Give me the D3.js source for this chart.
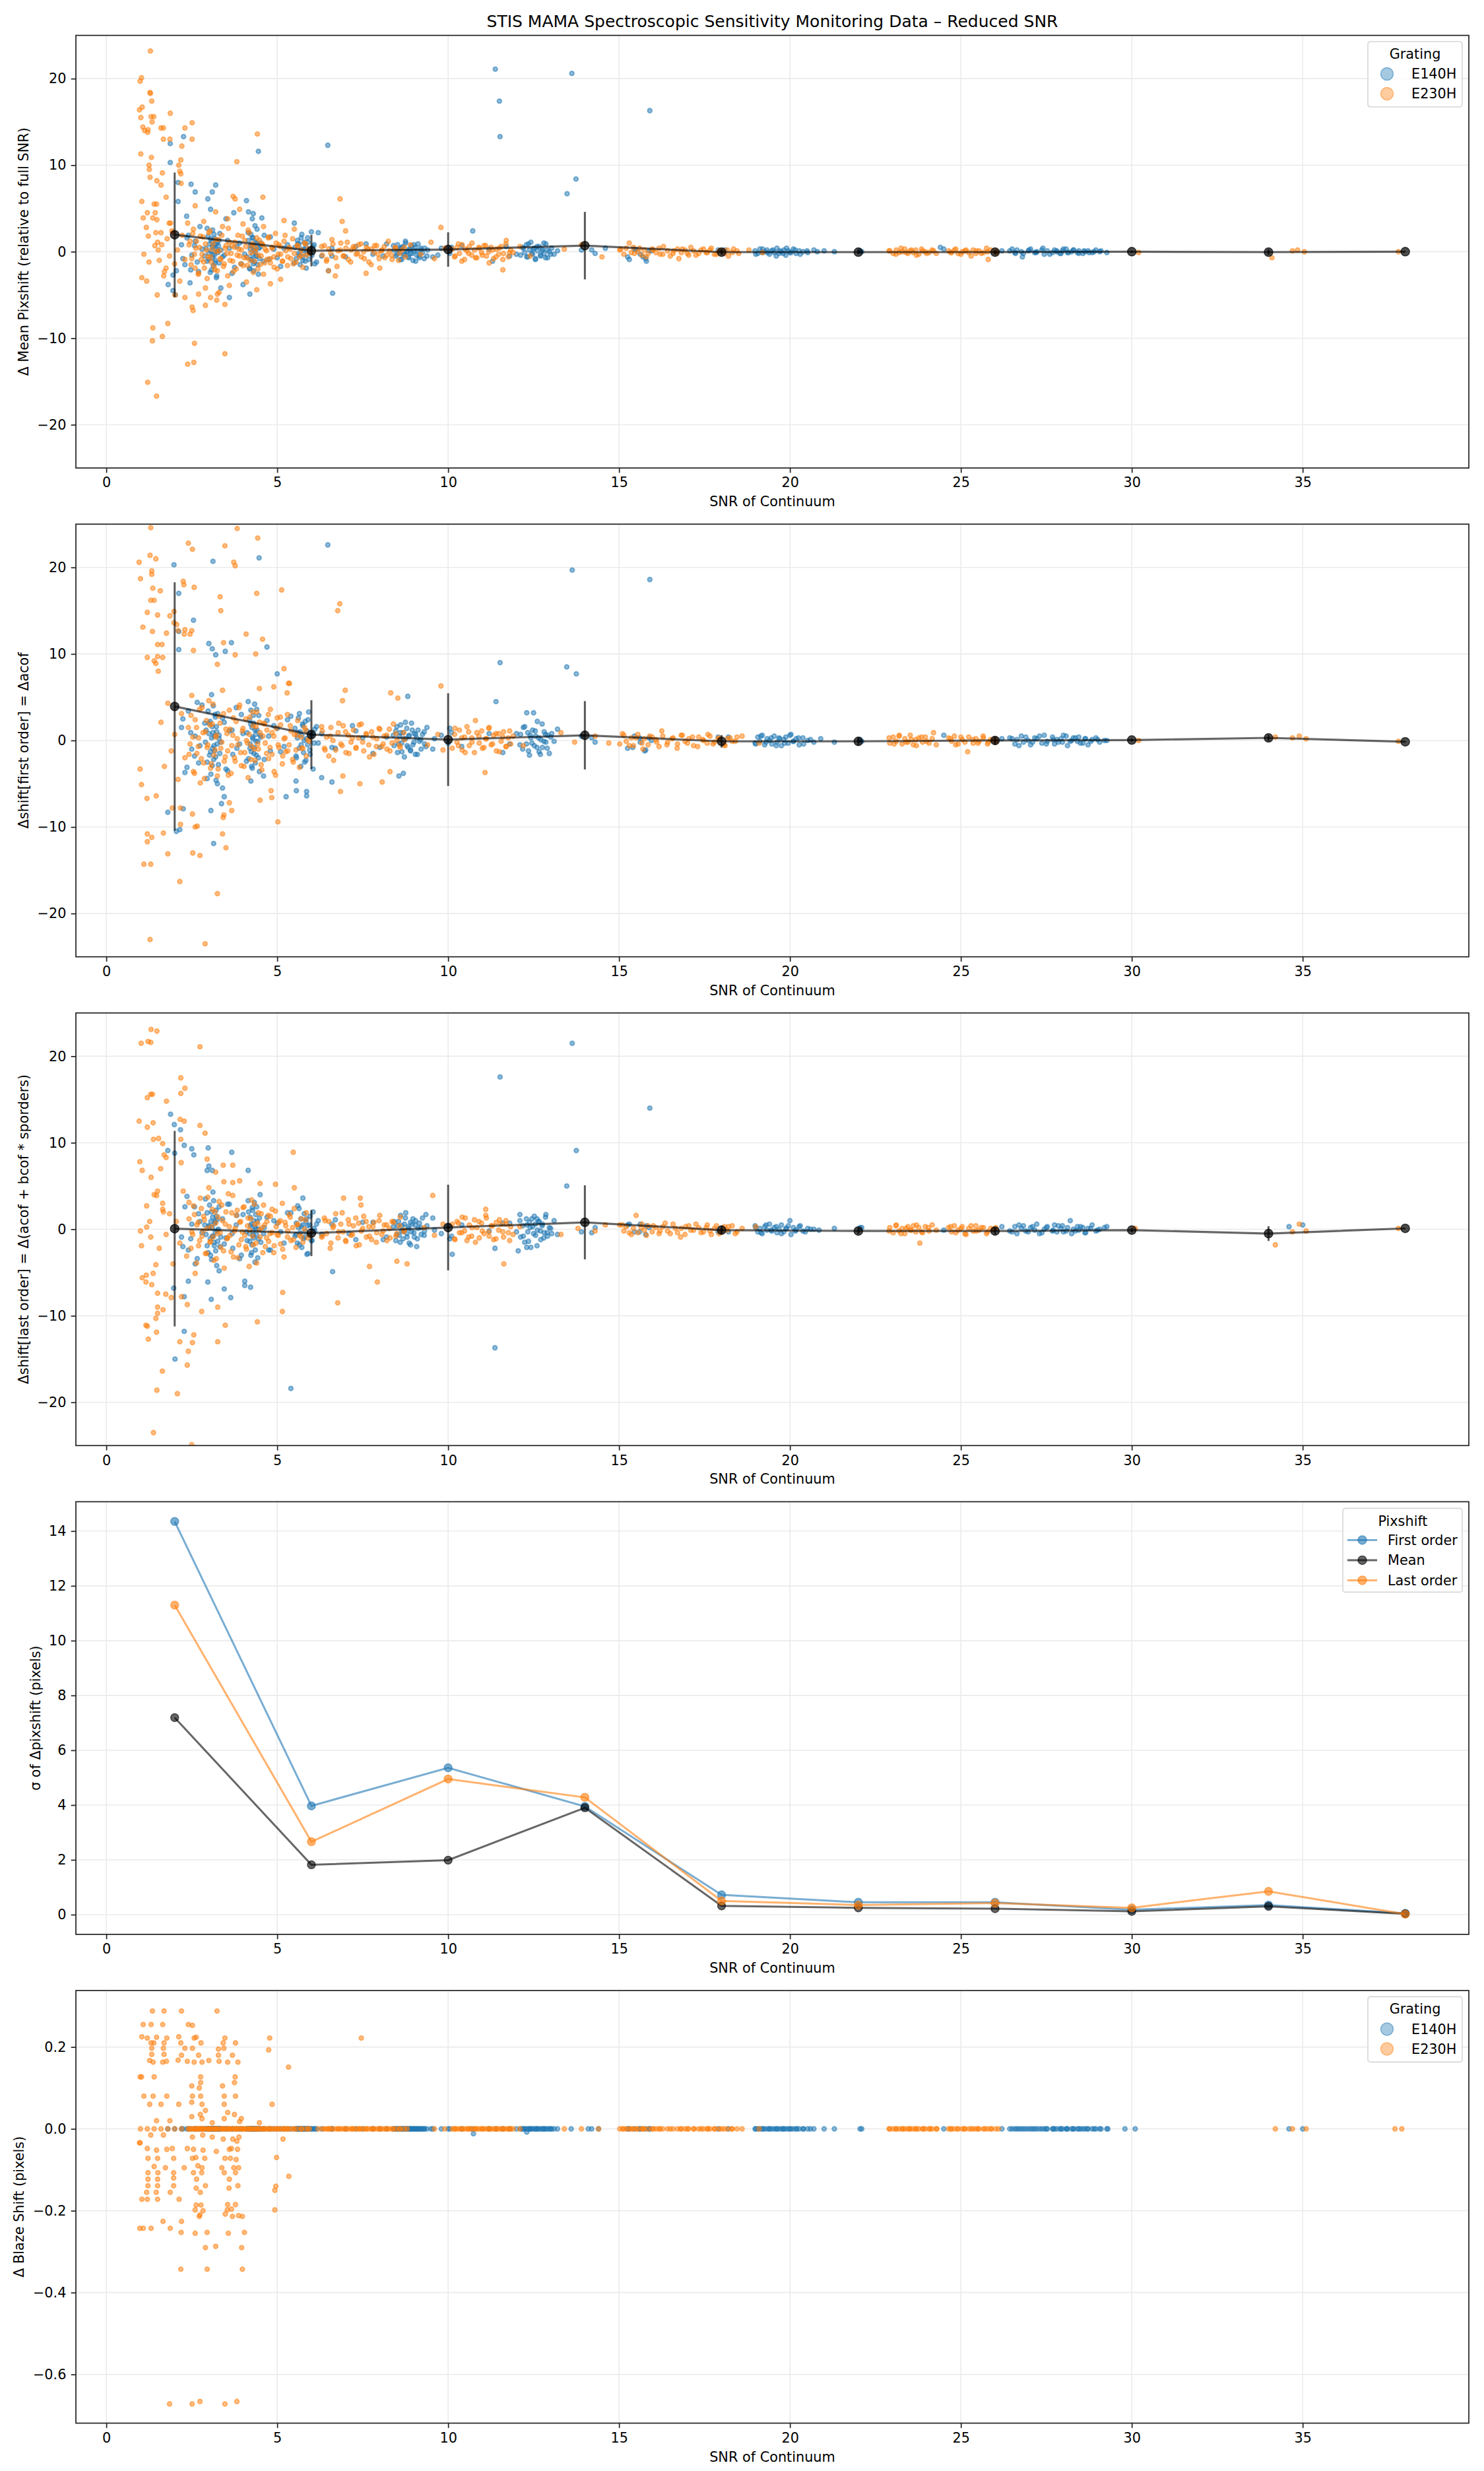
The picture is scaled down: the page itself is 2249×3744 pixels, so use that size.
<!DOCTYPE html>
<html>
<head>
<meta charset="utf-8">
<script src="https://cdn.jsdelivr.net/npm/d3@7"></script>
<style>
  body { margin: 0; background: #fff; }
  svg text { font-family: 'DejaVu Sans', sans-serif; fill: #000; }
</style>
</head>
<body>
<svg id="chart" width="2249" height="3744"></svg>
<script>
// ---- binned summary (x = SNR bin centres) ----
const snrBins = [2, 6, 10, 14, 18, 22, 26, 30, 34, 38];
const binMeanShift = [1.96, 0.12, 0.25, 0.7, -0.05, -0.05, -0.05, 0.0, -0.05, 0.0];
const binFirstShift = [3.93, 0.68, 0.1, 0.6, -0.1, -0.1, 0.0, 0.05, 0.3, -0.15];
const binLastShift = [0.07, -0.44, 0.2, 0.8, -0.1, -0.2, -0.2, -0.1, -0.5, 0.1];
const sigmaFirst = [14.35, 3.97, 5.36, 3.95, 0.72, 0.45, 0.45, 0.18, 0.35, 0.05];
const sigmaMean = [7.19, 1.82, 1.99, 3.9, 0.32, 0.25, 0.22, 0.12, 0.3, 0.03];
const sigmaLast = [11.3, 2.66, 4.95, 4.28, 0.5, 0.35, 0.42, 0.25, 0.85, 0.02];

const xTicks = [0, 5, 10, 15, 20, 25, 30, 35];
const shiftTicks = [-20, -10, 0, 10, 20];
const sigmaTicks = [0, 2, 4, 6, 8, 10, 12, 14];
const blazeTicks = [-0.6, -0.4, -0.2, 0.0, 0.2];

// ---- core observations, one row each: [snr, meanShift, firstShift, lastShift] (blaze shift 0) ----
const e140hCoreObs = [
  [2.92,0.4,1.2,-0.6],[2.95,-1.1,-2.5,1.9],[2.98,1.8,3.4,-2.7],[3.0,-0.2,0.8,0.4],[3.02,0.9,-1.7,2.8],[3.04,-2.4,2.2,-1.1],
  [3.06,0.1,-3.9,0.9],[3.08,1.2,0.3,-3.5],[3.1,-0.7,1.6,0.2],[3.11,2.5,-0.9,1.4],[3.13,-1.6,4.0,-0.8],[3.14,0.6,-2.2,3.3],
  [3.16,-0.4,0.5,-1.9],[3.17,1.5,-1.2,0.7],[3.19,-1.0,2.7,-0.3],[3.21,0.3,-4.6,2.2],[3.23,-2.8,1.0,-4.2],[3.24,1.0,-0.4,1.1],
  [3.26,-0.1,3.1,-1.4],[3.28,0.7,-2.8,0.0],[3.3,-1.3,0.6,2.6],[3.32,2.1,-1.5,-2.0],[2.88,-0.5,2.0,0.5],[3.35,0.2,-0.2,-0.9],
  [4.12,-0.6,0.9,-1.3],[4.16,1.3,-2.1,2.0],[4.19,-1.9,2.4,-0.5],[4.21,0.3,-0.4,1.4],[4.23,2.0,3.5,-3.0],[4.24,-0.9,-1.3,0.6],
  [4.26,0.8,1.5,-1.8],[4.27,-0.3,-3.2,2.5],[4.29,1.6,0.2,-0.2],[4.31,-2.2,2.0,-1.0],[4.33,0.5,-0.8,3.1],[4.34,-1.2,4.2,0.3],
  [4.36,0.0,-2.6,-2.4],[4.37,1.1,0.7,1.7],[4.39,-0.5,-1.7,-0.6],[4.41,2.6,1.2,0.9],[4.43,-1.5,-0.1,-3.3],[4.46,0.4,2.9,0.0],
  [4.48,-0.8,-3.6,1.3],[4.52,1.0,0.4,-1.5],
  [5.52,0.5,1.4,-0.8],[5.56,-0.8,-2.0,0.7],[5.59,1.3,0.3,-1.6],[5.62,-0.2,2.6,0.2],[5.64,0.9,-0.9,2.4],[5.67,-1.5,1.0,-0.4],
  [5.69,0.3,-3.0,1.2],[5.72,2.0,0.6,-2.1],[5.74,-0.6,1.9,0.5],[5.77,0.1,-1.4,-1.1],[5.79,1.1,0.0,1.8],[5.82,-1.1,2.2,-0.2],
  [5.84,0.6,-2.3,0.9],[5.87,-0.3,1.1,-2.9],[5.89,1.6,-0.5,0.4],[5.92,-0.9,3.3,-0.7],[5.96,0.2,-1.6,1.5],[6.02,-0.4,0.8,-1.3],
  [6.08,0.8,-0.3,0.1],[6.15,-1.2,1.6,0.6],
  [8.42,0.2,-0.6,0.9],[8.47,-0.5,1.1,-1.3],[8.52,0.8,-1.4,0.4],[8.57,-0.1,0.5,-0.7],[8.61,0.4,1.8,1.6],[8.64,-0.9,-0.3,-0.2],
  [8.68,0.6,0.9,-1.1],[8.72,-0.3,-1.9,0.6],[8.76,1.0,0.2,1.9],[8.79,0.0,1.4,-0.5],[8.83,-0.6,-0.8,0.3],[8.86,0.3,0.6,-1.6],
  [8.9,-0.2,-1.2,0.8],[8.93,0.7,2.0,-0.3],[8.97,-1.0,-0.5,1.2],[9.01,0.1,0.8,-0.9],[9.04,0.5,-1.6,0.5],[9.08,-0.4,0.3,-2.0],
  [9.12,0.9,1.2,0.1],[9.16,-0.7,-0.1,0.7],[9.21,0.2,-1.0,-0.6],[9.25,-0.1,0.7,1.3],[9.31,0.4,-0.4,-0.2],[9.38,-0.5,1.5,0.4],
  [12.12,-0.4,0.7,-0.9],[12.18,0.5,-1.0,0.4],[12.24,-0.1,1.6,-1.5],[12.29,0.8,-0.4,1.2],[12.33,-0.6,0.9,-0.3],[12.38,0.2,-1.7,0.8],
  [12.42,1.1,0.3,-2.1],[12.47,-0.3,1.2,0.3],[12.52,0.4,-0.6,1.5],[12.56,-0.8,0.5,-0.7],[12.61,0.1,2.2,-0.1],[12.66,0.6,-1.3,0.9],
  [12.71,-0.5,0.1,-1.2],[12.76,0.3,-0.8,0.6],[12.81,-0.2,1.0,-0.4],[12.86,0.9,-0.2,1.7],[12.91,-0.7,0.6,-0.8],[12.96,0.0,-1.5,0.2],
  [13.03,0.4,0.8,-0.5],[13.1,-0.3,-0.1,1.0],
  [18.98,0.1,-0.3,0.4],[19.06,-0.2,0.4,-0.3],[19.12,0.3,-0.1,0.1],[19.19,-0.1,0.6,-0.5],[19.26,0.0,-0.5,0.3],[19.33,0.2,0.2,-0.1],
  [19.4,-0.3,0.0,0.6],[19.47,0.1,-0.4,-0.2],[19.54,-0.1,0.5,0.2],[19.62,0.4,-0.2,-0.4],[19.68,-0.2,0.3,0.0],[19.75,0.0,-0.6,0.5],
  [19.82,0.2,0.1,-0.3],[19.88,-0.4,0.4,0.1],[19.95,0.1,-0.3,0.4],[20.03,-0.1,0.7,-0.6],[20.1,0.3,-0.1,0.2],[20.18,-0.2,0.2,-0.1],
  [20.27,0.1,-0.5,0.3],[20.38,0.0,0.3,-0.2],[20.52,-0.1,0.0,0.1],[20.7,0.2,-0.2,0.0],
  [26.43,0.1,0.3,-0.2],[26.58,-0.1,-0.4,0.3],[26.64,0.2,0.1,-0.5],[26.77,0.0,0.5,0.1],[26.83,-0.2,-0.2,0.4],[26.97,0.1,0.0,-0.3],
  [27.04,0.3,-0.5,0.2],[27.16,-0.1,0.3,-0.1],[27.22,0.0,0.2,0.6],[27.37,0.2,-0.3,-0.4],[27.44,-0.3,0.6,0.0],[27.53,0.1,-0.1,0.3],
  [27.68,-0.1,0.4,-0.2],[27.74,0.2,-0.4,0.5],[27.81,0.0,0.1,-0.3],[27.93,-0.2,0.2,0.1],[27.97,0.1,-0.2,0.4],[28.08,0.3,0.5,-0.2],
  [28.12,-0.1,-0.6,0.2],[28.24,0.0,0.0,-0.5],[28.29,0.2,0.3,0.0],[28.41,-0.1,-0.1,0.3],[28.45,0.1,0.4,-0.1],[28.57,-0.2,-0.3,0.2],
  [28.63,0.0,0.2,-0.4],[28.72,0.1,-0.5,0.1],[28.84,-0.1,0.1,0.5],[28.95,0.2,0.3,-0.2],[29.06,0.0,-0.2,0.0],[29.27,-0.1,0.0,0.3],
  [2.24,-0.8,2.5,-2.0],[2.36,1.6,-3.1,3.8],[2.47,-2.1,0.9,-1.1],[2.58,0.7,-1.8,2.6],[2.66,-1.2,4.4,-3.4],[2.74,2.9,-0.6,0.9],
  [3.45,-0.4,2.1,-1.7],[3.55,1.3,-3.5,2.9],[3.68,-2.5,1.2,-0.5],[3.82,0.6,-0.9,1.6],[3.95,-1.4,3.0,-3.0],[4.62,1.9,-2.2,0.2],
  [4.75,-0.9,0.5,-2.4],[4.9,0.3,1.7,1.0],[5.1,-1.7,-1.3,-0.3],[5.3,0.8,2.4,1.9],[6.6,-0.5,-0.8,0.6],[7.3,0.6,1.1,-1.2],
  [7.8,-0.3,-1.5,0.8],[8.2,0.9,0.4,-0.9],[9.55,-0.6,-1.0,1.3],[9.8,0.4,0.6,-0.5],[10.05,-0.2,1.4,-1.1],[10.4,0.7,-0.7,0.5],
  [11.2,0.3,0.8,-0.2],[11.8,-0.5,-0.4,0.7],[14.2,0.2,0.3,-0.4],[15.25,-0.6,-0.9,0.5],[15.45,0.3,0.5,-0.3],[15.62,-0.3,-0.2,0.6],
  [15.78,-0.8,-1.1,-0.6],[15.88,0.1,0.3,0.2],[17.9,0.2,0.4,-0.3],[21.3,0.0,-0.2,0.1],[22.05,0.1,0.1,0.2],[24.5,0.3,0.6,-0.1],
  [26.2,0.1,0.2,0.3]
];
const e230hCoreObs = [
  [2.42,0.8,-1.6,3.1],[2.48,-1.5,2.9,-2.2],[2.53,2.1,0.4,-0.6],[2.58,-0.3,-3.8,1.7],[2.64,1.2,1.5,-3.9],[2.69,-2.6,-0.7,0.8],
  [2.73,0.5,3.6,-1.3],[2.78,-0.9,-2.1,2.4],[2.83,1.7,0.9,-0.2],[2.87,-1.9,-4.4,1.1],[2.93,0.2,2.3,-2.8],[2.97,-0.6,-0.5,3.7],
  [3.03,2.4,1.8,-1.5],[3.07,-1.2,-2.7,0.3],[3.12,0.9,4.2,-0.9],[3.18,-2.1,-1.1,2.0],[3.22,0.0,0.6,-3.4],[3.27,1.4,-3.3,1.4],
  [3.33,-0.8,2.0,-0.4],[3.38,1.9,-0.2,2.8],[3.43,-1.7,3.1,-2.5],[3.48,0.4,-1.9,0.6],[3.53,-0.2,0.8,-1.1],[3.57,2.7,-4.0,4.1],
  [3.62,-1.0,1.3,-0.7],[3.67,0.7,-0.6,1.9],[3.72,-2.3,2.6,-3.2],[3.77,1.1,-2.4,0.1],[3.83,-0.4,0.2,2.2],[3.88,0.3,3.8,-1.8],
  [3.93,-1.4,-1.4,0.9],[3.98,1.8,1.1,-0.3],[4.03,-0.7,-3.0,2.6],[4.08,0.6,2.5,-2.0],[4.13,-1.6,-0.3,0.4],[4.18,2.2,0.7,-4.3],
  [4.23,-0.1,-2.2,1.2],[4.28,0.9,3.3,-0.8],[4.33,-1.1,-1.0,2.9],[4.38,0.4,1.6,-1.6],[4.43,-2.0,-0.4,0.7],[4.48,1.3,2.1,-0.1],
  [4.53,-0.5,-2.8,1.8],[4.58,0.8,0.5,-2.7],[4.63,-1.3,1.9,0.5],[4.69,0.1,-1.5,-1.0],[4.74,1.6,3.0,1.6],[4.79,-0.8,-0.8,-0.5],
  [4.85,0.5,0.9,2.3],[4.91,-1.8,-3.6,-1.9],[4.97,1.0,1.4,0.3],[5.03,-0.3,-0.5,-0.7],[5.09,0.6,2.7,1.0],[5.16,-1.1,-1.8,-2.3],
  [5.23,1.9,0.3,0.8],[5.31,-0.6,-1.2,-0.2],[5.38,0.3,1.7,1.4],[5.47,-1.4,-2.5,-1.2],[5.58,0.7,0.6,0.5],[5.71,-0.4,-0.9,-0.9],
  [5.83,0.9,1.2,1.1],[5.94,-0.2,-0.1,-0.6],
  [6.32,-0.4,1.1,-0.8],[6.38,0.7,-0.9,1.3],[6.44,-1.1,0.4,-0.5],[6.51,0.3,-1.8,0.9],[6.57,-0.2,1.5,-1.6],[6.63,0.9,0.0,0.2],
  [6.71,-0.7,-1.1,1.8],[6.78,0.1,0.9,-1.0],[6.86,1.0,-0.4,0.6],[6.93,-0.5,1.7,-0.3],[7.01,0.4,-1.4,-1.4],[7.08,-0.9,0.6,1.1],
  [7.16,0.2,-0.2,-0.7],[7.23,0.6,1.2,0.4],[7.31,-0.3,-0.8,-1.9],[7.38,0.8,0.3,0.7],[7.46,-0.6,1.9,-0.2],[7.53,0.0,-1.2,1.5],
  [7.61,0.5,0.7,-0.9],[7.68,-1.2,-0.5,0.3],[7.76,0.3,1.0,-1.2],[7.83,-0.1,-1.6,0.8],[7.91,0.7,0.2,-0.4],[7.98,-0.8,1.4,1.0],
  [8.06,0.2,-0.7,-0.6],[8.13,0.6,0.5,0.5],[8.21,-0.4,-1.0,-1.3],[8.28,0.1,1.3,0.1],[8.36,-0.9,-0.3,0.9],[8.47,0.4,0.8,-0.8],
  [8.58,-0.2,-0.6,0.4],[8.72,0.5,0.1,-0.1],
  [10.12,0.3,-0.9,0.6],[10.19,-0.6,0.7,-1.1],[10.26,0.5,-0.2,0.9],[10.33,-0.2,1.2,-0.4],[10.41,0.8,-1.1,1.4],[10.48,-0.9,0.4,-0.2],
  [10.55,0.1,1.6,-1.3],[10.62,0.6,-0.6,0.5],[10.69,-0.4,0.3,-0.8],[10.77,0.2,-1.4,1.1],[10.84,-0.7,0.9,0.2],[10.91,0.4,-0.3,-1.0],
  [10.98,-0.1,1.1,0.7],[11.05,0.7,-0.8,-0.5],[11.12,-0.5,0.2,1.3],[11.19,0.0,1.4,-0.3],[11.26,0.5,-0.5,0.4],[11.33,-0.8,0.6,-1.2],
  [11.41,0.3,-1.2,0.8],[11.48,-0.3,0.8,-0.1],[11.55,0.6,-0.1,0.6],[11.62,-0.2,1.0,-0.9],[11.69,0.9,-0.7,1.0],[11.76,-0.6,0.3,-0.4],
  [11.83,0.2,-0.4,0.3],[11.9,-0.1,0.5,-0.6],
  [15.02,0.2,-0.4,0.5],[15.14,-0.3,0.6,-0.2],[15.21,0.4,-0.1,0.3],[15.36,-0.1,0.3,-0.6],[15.42,0.5,-0.6,0.1],[15.55,0.0,0.7,-0.4],
  [15.67,-0.4,-0.3,0.6],[15.74,0.2,0.2,-0.1],[15.85,-0.2,-0.5,0.4],[15.97,0.3,0.4,-0.3],[16.08,-0.1,0.1,0.2],[16.17,0.4,-0.7,-0.5],
  [16.28,-0.3,0.5,0.3],[16.42,0.1,-0.2,-0.2],[16.58,-0.2,0.3,0.6],[16.71,0.3,-0.4,-0.4],[16.82,-0.1,0.6,0.1],[16.93,0.2,-0.1,-0.6],
  [17.04,-0.4,0.2,0.4],[17.18,0.1,-0.6,-0.1],[17.33,-0.2,0.4,0.2],[17.47,0.3,0.0,-0.3],[17.58,-0.1,-0.3,0.5],[17.66,0.2,0.5,-0.2],
  [17.79,-0.3,-0.2,0.1],[17.93,0.1,0.3,-0.5],[18.08,-0.2,-0.5,0.3],[18.17,0.2,0.2,-0.1],[18.31,-0.1,-0.1,0.4],[18.45,0.1,0.4,-0.3],
  [22.92,0.1,-0.3,0.2],[23.02,-0.2,0.4,-0.4],[23.11,0.2,-0.1,0.5],[23.19,-0.1,0.5,-0.2],[23.28,0.0,-0.4,0.1],[23.36,0.3,0.2,-0.5],
  [23.45,-0.2,-0.2,0.3],[23.52,0.1,0.6,-0.1],[23.61,-0.1,-0.5,0.4],[23.68,0.2,0.1,-0.3],[23.77,-0.3,0.3,0.2],[23.88,0.1,-0.2,-0.4],
  [23.96,0.0,0.4,0.3],[24.07,-0.1,-0.3,-0.2],[24.16,0.2,0.2,0.5],[24.28,-0.2,-0.5,-0.1],[24.64,0.1,0.3,0.2],[24.73,-0.1,-0.1,-0.3],
  [24.81,0.2,0.5,0.4],[24.92,-0.2,-0.4,-0.1],[25.04,0.0,0.1,0.3],[25.12,0.1,-0.2,-0.5],[25.23,-0.1,0.4,0.1],[25.36,0.2,-0.3,-0.2],
  [25.44,-0.2,0.2,0.4],[25.53,0.1,-0.1,-0.1],[25.66,-0.1,0.3,0.2],[25.78,0.0,-0.4,-0.3],[25.87,0.2,0.1,0.1],[26.02,-0.1,-0.2,0.2]
];
const coreBlazeShift = 0;

// ---- panel 1: mean pixshift, [snr, shift] ----
const e140hMean = [
  [11.38,21.1],[11.5,17.4],[11.52,13.3],[13.62,20.6],[13.74,8.4],[13.48,6.7],[6.48,12.3],[4.45,11.6],[15.9,16.3],
  [1.87,12.5],[1.87,10.3],[2.26,13.3],[2.48,7.8],[2.1,8.0],[2.6,6.9],[3.1,6.9],[3.2,7.7],[2.97,6.1],[3.73,4.5],[4.16,4.6],[4.27,3.8],
  [6.62,-4.8],[6.5,-2.2],[2.02,-5.0],[1.81,-3.8],[2.05,-2.2],[1.95,-4.5],[10.72,2.4],
  [2.2,0.8],[2.3,-1.5],[2.4,1.9],[2.5,-0.4],[2.6,1.2],[2.7,-2.3],[2.8,0.3],[2.95,2.7],[3.0,-0.9],[3.05,1.5],[3.08,-2.1],[3.1,0.6],
  [3.12,-0.3],[3.15,2.0],[3.18,-1.3],[3.2,0.9],[3.22,-3.0],[3.25,0.1],[3.3,1.3],[3.4,-0.6],[3.6,0.4],[3.75,-1.8],[3.9,1.0],[4.05,-0.3],
  [4.15,2.2],[4.2,-2.0],[4.22,0.7],[4.25,-0.9],[4.28,1.6],[4.3,-1.4],[4.32,0.2],[4.35,3.0],[4.38,-0.5],[4.4,1.0],[4.45,-2.6],[4.5,0.5],
  [4.6,-1.1],[4.8,1.7],[5.0,-0.7],[5.2,0.4],[5.5,-1.3],[5.6,0.9],[5.65,-0.4],[5.7,1.6],[5.75,-1.0],[5.8,0.3],[5.85,-1.9],[5.9,1.1],
  [5.95,-0.2],[6.05,0.6],[6.1,-1.4],[6.2,2.2],[6.3,-0.5],
  [2.1,5.8],[2.35,4.1],[3.05,4.9],[3.5,3.8],[4.1,5.9],[4.3,4.4],[4.55,3.9],[5.5,3.3],[6.0,2.3],[2.45,-3.6],[3.35,-4.2],[3.6,-5.3],[4.0,-3.8],[4.2,-4.9],[1.95,-2.7],
  [6.6,0.4],[7.0,-0.6],[7.6,0.9],[8.1,-0.5],[8.4,0.7],[8.5,-0.3],[8.55,0.2],[8.6,-0.9],[8.65,0.5],[8.7,-0.4],[8.75,1.2],[8.8,0.0],
  [8.85,-0.7],[8.9,0.3],[8.95,-0.2],[9.0,0.8],[9.05,-1.1],[9.1,0.1],[9.15,-0.5],[9.2,0.4],[9.3,-0.8],[9.4,0.2],[9.7,-0.4],[10.1,0.5],
  [11.3,-1.1],[11.7,0.6],[12.0,-0.3],[12.2,0.4],[12.3,-0.6],[12.35,0.9],[12.45,-0.2],[12.5,0.3],[12.55,-0.9],[12.6,0.6],[12.7,-0.4],
  [12.75,0.1],[12.8,1.0],[12.85,-0.7],[12.9,0.2],[13.0,-0.3],[13.2,0.1],[13.9,0.2],[14.3,-0.2],[14.6,0.4],
  [15.3,-0.9],[15.5,0.2],[15.7,-0.6],[15.8,-1.1],[15.95,0.1],[18.1,0.2],[19.0,-0.3],[19.2,0.3],[19.35,-0.1],[19.5,0.2],[19.6,-0.5],
  [19.7,0.1],[19.8,-0.2],[19.9,0.4],[20.0,-0.1],[20.15,0.2],[20.3,-0.3],[20.5,0.1],[20.8,0.0],[21.0,0.1],[22.1,0.0],[24.4,0.5],
  [26.5,0.3],[26.6,-0.2],[26.8,-0.6],[27.0,0.2],[27.2,-0.1],[27.4,0.4],[27.6,-0.3],[27.8,0.1],[27.9,-0.2],[28.0,0.3],[28.15,-0.1],
  [28.3,0.2],[28.45,-0.2],[28.6,0.1],[28.75,-0.1],[28.9,0.0],[29.1,0.1]
];
const e230hMean = [
  [1.29,23.2],[1.03,20.1],[0.99,19.7],[1.28,18.4],[1.29,18.3],[1.33,17.4],[0.97,16.4],[1.05,16.7],[1.87,16.0],[1.01,15.5],[1.31,15.6],
  [1.39,15.6],[1.34,15.0],[1.07,14.4],[1.12,14.0],[1.22,14.1],[1.21,13.8],[1.6,14.3],[1.67,14.3],[2.51,14.9],[2.3,14.3],[1.67,13.0],
  [1.86,13.0],[2.21,12.2],[2.51,13.0],[1.01,11.3],[1.32,10.9],[2.18,10.6],[2.12,10.0],[2.15,9.3],[2.18,9.0],[1.25,10.0],[1.26,9.5],
  [1.28,8.6],[1.64,9.1],[1.6,7.7],[1.48,8.2],[2.19,7.9],[1.75,6.3],[1.04,5.8],[1.4,5.5],[1.47,5.5],[1.2,4.5],[1.43,4.5],[1.08,3.9],
  [1.17,2.8],[1.36,3.9],[1.48,3.7],[1.84,3.3],[1.88,3.3],[1.45,2.2],[1.6,2.2],[1.95,2.2],[1.23,1.8],[1.5,1.1],[1.42,0.7],
  [4.42,13.6],[3.82,10.4],[3.71,6.4],[3.77,6.1],[4.58,6.3],[6.84,6.1],[9.79,2.8],
  [1.04,-3.0],[1.18,-3.4],[1.49,-5.0],[1.36,-8.8],[1.35,-10.3],[1.64,-9.8],[1.8,-8.3],[1.21,-15.1],[1.47,-16.7],[2.58,-10.6],
  [2.38,-13.0],[2.56,-12.8],[3.47,-11.8],[2.51,-6.4],[2.54,-6.8],[2.9,-6.2],[3.23,-5.6],[3.25,-4.9],[3.47,-6.1],[2.01,-5.0],
  [2.3,-5.3],[1.68,-2.8],[1.25,-1.2],[1.1,-0.3],[1.52,0.2],[1.75,-1.9],[11.6,-2.1],
  [1.55,-1.0],[1.62,0.8],[1.7,-2.3],[1.78,1.5],[1.85,-0.5],[1.92,2.4],[2.0,-1.4],[2.08,0.2],[2.15,-3.4],[2.22,1.9],[2.3,-0.9],[2.38,3.3],
  [2.45,1.2],[2.5,-0.8],[2.55,2.6],[2.6,-1.9],[2.62,0.4],[2.7,-2.5],[2.75,1.8],[2.8,-0.3],[2.85,-1.2],[2.9,0.9],[2.95,-3.1],[3.0,2.2],
  [3.05,-0.6],[3.1,0.3],[3.15,-1.7],[3.2,1.4],[3.25,-2.2],[3.3,0.1],[3.35,-0.9],[3.4,2.9],[3.45,-1.4],[3.5,0.7],[3.55,-2.8],[3.6,1.1],
  [3.65,-0.2],[3.7,-1.1],[3.75,0.5],[3.8,-2.0],[3.85,1.9],[3.9,-0.5],[3.95,0.2],[4.0,-1.6],[4.05,1.3],[4.1,-0.7],[4.15,2.5],[4.2,-1.0],
  [4.25,0.6],[4.3,-2.4],[4.35,0.0],[4.4,1.6],[4.45,-0.4],[4.5,-1.5],[4.55,0.9],[4.6,-2.6],[4.65,0.3],[4.7,-0.9],[4.75,1.7],[4.8,-1.3],
  [4.85,0.4],[4.9,-0.6],[4.95,2.1],[5.0,-2.0],[5.05,0.8],[5.1,-0.3],[5.15,-1.1],[5.2,1.2],[5.25,0.1],[5.3,-1.6],[5.35,0.5],[5.4,-0.8],
  [5.45,1.5],[5.5,-0.2],[5.55,-1.2],[5.6,0.7],[5.65,-0.6],[5.7,0.2],[5.75,-1.8],[5.8,1.0],[5.85,-0.4],[5.9,0.3],
  [2.9,-4.2],[3.3,-4.7],[3.6,-3.9],[4.1,-3.5],[4.4,-4.4],[3.05,-5.3],[2.7,-4.9],[4.8,-3.7],[5.1,-3.2],
  [2.85,3.5],[3.2,4.6],[3.55,3.8],[4.0,3.2],[4.6,2.9],[5.2,3.6],[3.9,4.9],[2.6,5.3],[5.5,2.6],
  [6.3,0.6],[6.45,-0.9],[6.6,1.4],[6.75,-1.7],[6.85,0.2],[6.95,-0.5],[7.05,1.1],[7.15,-1.2],[7.25,0.4],[7.35,-0.2],[7.45,0.9],
  [7.55,-0.8],[7.65,0.3],[7.75,-1.5],[7.85,0.7],[7.95,-0.3],[8.05,0.1],[8.15,-0.7],[8.25,1.2],[8.35,-0.4],[8.45,0.5],[8.55,-1.0],
  [8.65,0.2],[8.75,-0.6],[8.9,0.8],[9.2,-0.3],[9.5,1.1],[9.6,-0.8],[9.9,0.4],[10.2,-0.5],[10.3,0.9],[10.4,-1.1],[10.5,0.3],
  [10.6,-0.2],[10.7,1.0],[10.8,-0.7],[10.9,0.5],[11.0,-0.4],[11.1,0.7],[11.2,-1.3],[11.3,0.2],[11.4,-0.6],[11.5,0.4],[11.6,-0.9],
  [11.7,1.3],[11.8,-0.1],[12.1,0.6],[12.4,-0.5],[13.4,0.3],[13.9,0.8],[14.5,-0.6],
  [6.9,3.5],[7.0,2.4],[6.5,-2.2],[7.6,-2.5],[6.7,-2.8],[8.0,-1.9],
  [15.05,0.3],[15.3,1.0],[15.45,-0.2],[15.6,0.4],[15.8,-0.6],[16.0,0.2],[16.2,-0.3],[16.3,0.6],[16.5,-0.5],[16.6,0.1],[16.75,-0.8],
  [16.85,0.3],[17.0,-0.2],[17.1,0.5],[17.25,-0.4],[17.4,0.2],[17.55,-0.1],[17.7,0.4],[17.85,-0.3],[18.05,0.1],[18.2,-0.5],[18.35,0.3],
  [18.5,-0.2],[18.8,0.2],[19.2,-0.1],[22.9,0.1],[23.1,-0.3],[23.25,0.4],[23.4,-0.1],[23.55,0.2],[23.7,-0.4],[23.85,0.3],[24.0,-0.2],
  [24.2,0.1],[24.7,-0.1],[24.85,0.3],[25.0,-0.3],[25.15,0.2],[25.3,-0.5],[25.45,0.1],[25.6,-0.2],[25.75,0.4],[25.8,-0.9],[26.05,0.0],
  [30.2,-0.1],[34.7,0.1],[34.85,0.2],[35.05,0.0],[34.1,-0.7],[37.8,0.0]
];

// ---- panel 2: first order shift ----
const e140hFirst = [
  [1.98,20.3],[3.12,20.7],[4.47,21.1],[6.48,22.6],[2.12,17.0],[2.12,12.6],[2.12,10.5],[2.55,13.9],[3.0,11.2],[3.1,10.6],[3.2,9.9],
  [3.66,11.3],[3.48,10.3],[4.7,10.8],[5.0,7.7],[11.52,9.0],[13.63,19.7],[13.47,8.5],[13.75,7.7],[11.4,4.5],[12.3,3.2],[12.5,3.2],
  [8.82,5.1],[1.8,-8.3],[2.25,-7.9],[2.15,-10.3],[2.05,-10.5],[3.14,-11.9],[3.45,-6.5],[3.06,-8.1],[3.37,-7.3],[3.4,-5.5],[4.23,-4.7],
  [5.55,-4.7],[5.56,-5.8],[5.86,-5.9],[5.86,-6.4],[5.26,-6.5],[6.3,-4.3],[6.6,-4.8],[8.56,-4.1],[8.69,-3.8],
  [2.2,1.5],[2.3,-3.7],[2.4,3.4],[2.5,-1.0],[2.6,0.5],[2.7,-2.6],[2.8,4.1],[2.9,-0.2],[2.95,-4.4],[3.0,2.0],[3.05,-1.3],[3.08,5.3],
  [3.1,-2.9],[3.12,0.9],[3.15,-0.6],[3.18,3.0],[3.2,-1.9],[3.22,1.6],[3.25,-5.0],[3.3,0.2],[3.4,2.6],[3.5,-3.3],[3.6,1.1],[3.7,-1.6],
  [3.8,3.8],[3.9,-0.4],[4.0,0.8],[4.1,-2.4],[4.15,4.5],[4.2,-0.9],[4.22,1.9],[4.25,-3.0],[4.28,0.4],[4.3,2.9],[4.32,-1.5],[4.35,1.2],
  [4.38,-0.1],[4.4,3.6],[4.45,-2.0],[4.5,0.6],[4.6,-4.1],[4.7,2.3],[4.8,-1.2],[5.0,1.4],[5.2,-0.7],[5.4,2.8],[5.55,-1.8],[5.6,0.9],
  [5.65,3.1],[5.7,-0.5],[5.75,1.7],[5.8,-2.5],[5.85,0.2],[5.9,2.4],[5.95,-1.1],[6.0,0.6],[6.05,-3.3],[6.1,1.3],[6.2,-0.3],[6.3,0.8],
  [6.7,-0.9],[7.2,1.7],[7.5,0.3],[8.0,-0.8],[8.4,0.6],[8.5,1.6],[8.55,-0.4],[8.6,0.9],[8.65,-1.3],[8.7,0.2],[8.75,2.1],[8.8,-0.6],
  [8.85,0.5],[8.9,-1.1],[8.95,1.2],[9.0,-0.2],[9.05,0.7],[9.1,-1.6],[9.2,0.1],[9.3,1.0],[9.35,-0.7],[9.6,0.2],[10.0,-0.3],[10.1,0.9],
  [11.6,-1.4],[12.0,0.8],[12.1,-0.5],[12.2,1.5],[12.35,-1.2],[12.4,0.6],[12.45,-0.3],[12.55,1.1],[12.6,-0.8],[12.65,0.3],[12.7,-1.6],
  [12.75,1.9],[12.8,-0.1],[12.85,0.7],[12.9,-0.9],[13.0,0.4],[13.2,1.3],[13.9,0.5],[14.3,-0.2],
  [15.4,-0.8],[15.6,0.3],[15.75,-1.2],[15.9,18.6],[15.95,0.0],[18.2,0.4],[19.0,-0.4],[19.15,0.5],[19.3,-0.2],[19.45,0.3],[19.6,-0.6],
  [19.7,0.2],[19.85,-0.3],[20.0,0.6],[20.1,-0.1],[20.25,0.3],[20.4,-0.4],[20.6,0.1],[20.9,0.2],[22.1,-0.1],[26.5,0.2],[26.7,-0.6],
  [26.9,0.4],[27.1,-0.2],[27.3,0.5],[27.5,-0.4],[27.7,0.1],[27.85,-0.2],[28.0,0.6],[28.2,-0.1],[28.35,0.3],[28.5,-0.3],[28.65,0.2],
  [28.8,-0.1],[29.0,0.1],[29.2,0.0]
];
const e230hFirst = [
  [1.3,24.6],[3.83,24.5],[0.96,20.6],[1.28,21.4],[1.45,21.0],[2.4,22.8],[2.52,22.1],[3.47,22.5],[4.43,23.4],[3.73,20.6],[3.77,20.2],
  [1.33,19.6],[1.33,19.2],[1.0,18.7],[2.25,18.4],[2.27,18.0],[2.57,17.7],[1.36,17.6],[1.58,17.3],[5.13,17.4],[6.83,15.8],[6.77,15.0],
  [4.4,17.0],[3.33,16.6],[3.35,15.0],[1.3,16.2],[1.4,16.2],[1.2,14.8],[1.5,14.5],[1.86,14.4],[1.98,14.9],[1.98,13.6],[2.06,13.4],
  [2.1,12.7],[2.3,12.8],[2.5,12.7],[2.45,12.3],[2.28,12.3],[1.07,13.1],[1.35,12.6],[1.76,12.4],[4.09,12.3],[1.5,11.1],[1.63,11.1],
  [3.43,11.3],[3.77,9.9],[4.57,11.7],[4.37,10.0],[2.55,10.4],[3.25,8.8],[1.5,9.7],[1.2,9.6],[1.65,9.6],[1.4,9.2],[1.45,8.9],[1.52,8.0],
  [5.2,8.3],[5.33,6.6],[5.36,6.6],[5.29,5.5],[4.9,6.2],[4.48,6.0],[9.79,6.3],[6.99,5.8],[8.32,5.5],[8.53,4.9],[6.91,4.6],
  [0.99,-3.3],[1.03,-5.1],[1.19,-6.7],[1.46,-6.4],[1.2,-10.8],[1.2,-11.7],[1.33,-11.2],[1.1,-14.3],[1.3,-14.3],[1.28,-23.0],
  [1.67,-10.7],[1.8,-13.1],[2.15,-16.3],[2.17,-9.7],[2.17,-7.8],[1.93,-7.8],[2.53,-13.0],[2.74,-13.3],[2.6,-10.0],[2.66,-9.9],
  [2.52,-8.5],[2.89,-23.5],[3.25,-17.7],[3.4,-10.8],[3.5,-12.4],[3.42,-8.9],[3.44,-8.6],[3.67,-8.1],[3.6,-7.2],[4.5,-6.9],[5.02,-9.4],
  [4.82,-5.8],[4.84,-6.6],[6.85,-5.9],[8.07,-4.8],[8.3,-3.6],[7.42,-5.0],[11.08,-3.7],[6.92,-4.1],
  [1.6,2.1],[1.7,-3.0],[1.8,4.3],[1.9,-1.2],[2.0,0.7],[2.1,-4.5],[2.2,3.1],[2.3,-2.0],[2.4,1.5],[2.45,-0.4],[2.5,5.2],[2.55,-3.6],
  [2.6,2.4],[2.65,-1.5],[2.7,0.3],[2.75,-4.9],[2.8,3.8],[2.85,-2.6],[2.9,1.0],[2.95,-0.8],[3.0,4.6],[3.05,-3.2],[3.1,1.9],[3.15,-1.7],
  [3.2,0.4],[3.25,-4.1],[3.3,2.8],[3.35,-0.9],[3.4,5.8],[3.45,-2.4],[3.5,1.3],[3.55,-1.2],[3.6,3.5],[3.65,-3.8],[3.7,0.6],[3.75,-2.0],
  [3.8,2.2],[3.85,-0.5],[3.9,4.1],[3.95,-2.9],[4.0,1.4],[4.05,-1.4],[4.1,0.0],[4.15,-4.3],[4.2,2.7],[4.25,-0.7],[4.3,1.7],[4.35,-2.3],
  [4.4,3.3],[4.45,-1.0],[4.5,0.9],[4.55,-3.4],[4.6,2.0],[4.65,-0.3],[4.7,1.2],[4.75,-2.1],[4.8,3.6],[4.85,-1.6],[4.9,0.5],[4.95,-4.0],
  [5.0,2.6],[5.05,-0.8],[5.1,1.8],[5.15,-2.7],[5.2,0.2],[5.25,-1.3],[5.3,3.0],[5.35,-0.5],[5.4,1.1],[5.45,-2.2],[5.5,0.7],[5.55,-1.1],
  [5.6,2.3],[5.65,-3.1],[5.7,0.4],[5.75,-0.9],[5.8,1.5],[5.85,-1.8],[5.9,0.1],
  [6.3,1.6],[6.4,-1.1],[6.55,0.5],[6.65,-2.3],[6.8,2.0],[6.9,-0.6],[7.0,1.0],[7.1,-1.5],[7.2,0.3],[7.3,-0.9],[7.4,1.8],[7.5,-0.2],
  [7.6,0.8],[7.7,-1.9],[7.8,0.4],[7.9,-0.7],[8.0,1.3],[8.1,-0.4],[8.2,0.6],[8.3,-1.2],[8.4,1.9],[8.5,0.0],[8.6,-0.8],[8.7,0.9],
  [9.4,-0.5],[9.7,0.7],[9.85,-1.1],[10.2,1.4],[10.3,-0.6],[10.4,0.3],[10.5,-1.4],[10.6,1.0],[10.7,-0.2],[10.8,2.3],[10.9,0.5],
  [11.0,-0.9],[11.1,0.2],[11.2,1.5],[11.3,-0.4],[11.4,0.8],[11.5,-1.3],[11.6,0.4],[11.7,-0.7],[11.8,1.1],[12.2,-0.6],[13.3,0.9],
  [13.7,-0.2],[14.3,0.5],[14.7,-0.3],
  [15.1,0.8],[15.3,-0.6],[15.5,0.3],[15.7,-1.0],[15.9,0.5],[16.1,-0.2],[16.25,1.1],[16.4,-0.5],[16.55,0.2],[16.7,-0.9],[16.85,0.6],
  [17.0,-0.3],[17.15,0.4],[17.3,-0.7],[17.45,0.1],[17.6,0.7],[17.75,-0.4],[17.9,0.2],[18.1,-0.6],[18.25,0.3],[18.4,-0.1],[18.6,0.5],
  [19.1,-0.3],[22.9,0.3],[23.05,-0.4],[23.2,0.6],[23.4,-0.2],[23.55,0.1],[23.7,-0.6],[23.85,0.4],[24.0,-0.1],[24.2,0.9],[24.7,0.2],
  [24.85,-0.5],[25.0,0.4],[25.2,-1.3],[25.35,0.1],[25.5,-0.3],[25.65,0.5],[25.8,-0.2],[26.0,0.1],[30.2,0.0],[34.7,0.3],[34.9,0.5],
  [35.1,0.2],[34.2,0.4],[37.8,-0.1]
];

// ---- panel 3: last order shift ----
const e140hLast = [
  [1.88,13.3],[1.99,12.1],[2.17,11.5],[2.28,9.7],[1.8,9.1],[2.0,8.8],[2.5,9.3],[2.56,8.6],[2.98,9.4],[3.67,8.9],[4.15,6.8],
  [3.0,7.3],[3.1,6.8],[2.95,6.8],[13.63,21.5],[11.52,17.6],[13.75,9.1],[13.47,5.0],[12.1,1.7],[12.6,1.2],[11.37,-13.7],[5.4,-18.4],
  [2.28,-11.8],[2.01,-15.0],[1.97,-6.8],[2.28,-7.8],[3.07,-8.1],[2.97,-6.1],[2.4,-6.0],[3.45,-6.9],[3.64,-7.9],[4.22,-6.7],[4.05,-6.5],
  [4.05,-6.0],[6.62,-4.9],[11.37,-2.2],[10.12,-2.9],[12.3,-2.1],[12.05,-2.5],
  [2.2,-0.9],[2.3,2.6],[2.4,-2.4],[2.5,0.6],[2.6,-4.0],[2.7,1.8],[2.8,-0.4],[2.9,3.5],[2.95,-1.9],[3.0,0.3],[3.05,-3.0],[3.08,2.0],
  [3.1,-0.8],[3.12,4.3],[3.15,-1.5],[3.18,0.9],[3.2,-2.5],[3.22,1.5],[3.25,-0.1],[3.3,-4.8],[3.4,1.2],[3.5,-1.0],[3.6,2.9],[3.7,-2.2],
  [3.8,0.5],[3.9,-3.4],[4.0,1.7],[4.1,-0.3],[4.15,3.3],[4.2,-1.4],[4.22,0.4],[4.25,-2.7],[4.28,2.2],[4.3,-0.7],[4.32,1.0],[4.35,-3.8],
  [4.38,0.1],[4.4,2.6],[4.45,-1.1],[4.5,4.0],[4.6,-0.5],[4.7,1.4],[4.8,-2.4],[5.0,0.7],[5.2,-1.6],[5.4,1.9],[5.55,-0.6],[5.6,2.7],
  [5.65,-1.8],[5.7,0.3],[5.75,3.6],[5.8,-0.9],[5.85,1.2],[5.9,-2.8],[5.95,0.5],[6.0,-1.3],[6.05,2.0],[6.1,-0.2],[6.2,1.0],[6.3,-0.6],
  [6.7,1.1],[7.1,-0.5],[7.5,0.8],[8.1,-1.2],[8.4,0.3],[8.5,-0.6],[8.55,0.9],[8.6,-1.5],[8.65,0.4],[8.7,-0.2],[8.75,1.3],[8.8,-0.9],
  [8.85,0.1],[8.9,-1.8],[8.95,0.6],[9.0,-0.4],[9.05,1.0],[9.1,-1.1],[9.2,0.2],[9.3,-0.7],[9.35,1.7],[9.6,-0.1],[10.0,0.4],[10.1,-0.8],
  [11.6,0.7],[12.0,-0.3],[12.1,1.0],[12.2,-0.8],[12.3,0.5],[12.35,-1.4],[12.4,0.2],[12.45,1.2],[12.5,-0.5],[12.55,0.6],[12.6,-1.9],
  [12.65,0.9],[12.7,-0.2],[12.75,0.4],[12.8,-1.0],[12.85,1.4],[12.9,-0.4],[13.0,0.1],[13.2,-0.6],[13.9,-0.3],[14.3,0.2],
  [15.3,0.6],[15.6,-0.3],[15.9,14.0],[15.8,0.4],[18.2,-0.3],[19.0,0.2],[19.15,-0.4],[19.3,0.5],[19.45,-0.1],[19.6,0.3],[19.75,-0.5],
  [19.9,0.1],[20.0,1.0],[20.15,-0.2],[20.3,0.4],[20.45,-0.3],[20.6,0.0],[20.85,-0.1],[22.1,0.2],[26.5,-0.3],[26.7,0.5],[26.9,-0.2],
  [27.1,0.3],[27.3,-0.5],[27.5,0.2],[27.7,-0.1],[27.85,0.4],[28.0,-0.3],[28.2,1.0],[28.35,-0.2],[28.5,0.3],[28.65,-0.4],[28.8,0.1],
  [29.0,-0.1],[29.2,0.2],[34.6,0.3],[35.0,0.5]
];
const e230hLast = [
  [1.31,23.1],[1.48,22.9],[1.02,21.5],[1.22,21.7],[1.3,21.6],[2.74,21.1],[2.18,17.5],[2.3,16.3],[2.18,15.7],[1.2,15.2],[1.3,15.6],
  [1.35,15.6],[1.76,14.8],[0.96,12.5],[1.2,11.8],[1.37,12.3],[2.16,12.7],[2.28,12.5],[2.74,12.0],[2.89,11.1],[1.38,10.4],[1.53,10.5],
  [1.65,9.9],[1.69,8.6],[1.75,8.3],[0.98,7.8],[1.05,6.8],[1.59,7.0],[1.31,6.0],[2.19,7.7],[2.18,10.4],[2.95,8.1],[3.42,7.4],[3.7,7.4],
  [3.2,6.6],[3.44,5.5],[3.7,5.4],[3.9,5.6],[5.47,8.9],[4.5,5.3],[4.95,5.2],[5.5,4.8],[9.55,3.9],[6.94,3.6],[7.43,3.6],[7.45,2.8],
  [11.1,2.3],[1.4,4.0],[1.5,4.4],[1.47,3.9],[1.18,2.7],[1.65,2.3],[1.67,2.0],[1.18,0.25],[1.0,-0.2],[1.03,-1.9],[1.27,0.9],[1.3,-0.9],
  [1.45,-4.1],[1.05,-5.6],[1.17,-5.3],[1.16,-6.1],[1.37,-5.1],[1.33,-6.4],[1.5,-7.4],[1.74,-7.5],[1.5,-9.0],[1.5,-9.7],[1.66,-9.3],
  [1.45,-10.3],[1.16,-11.1],[1.2,-11.2],[1.23,-12.7],[1.47,-11.9],[1.64,-16.4],[1.48,-18.6],[1.38,-23.5],[2.08,-19.0],[2.15,-13.0],
  [2.37,-15.7],[2.4,-14.1],[2.52,-13.1],[2.56,-12.2],[2.2,-7.8],[2.37,-8.7],[2.5,-24.9],[1.9,-7.9],[3.26,-13.0],[3.48,-11.1],
  [2.79,-9.5],[3.26,-9.0],[4.42,-10.7],[5.16,-7.3],[5.15,-9.5],[6.77,-8.5],[7.93,-6.1],[8.5,-3.7],[8.8,-4.0],[7.7,-4.3],[11.63,-4.0],
  [1.55,-2.2],[1.65,3.0],[1.75,-0.6],[1.85,1.8],[1.95,-4.0],[2.05,0.9],[2.15,-1.6],[2.25,4.4],[2.35,-3.1],[2.42,1.2],[2.5,-0.3],
  [2.55,2.7],[2.6,-5.1],[2.65,0.5],[2.7,-1.9],[2.75,3.6],[2.8,-0.8],[2.85,1.5],[2.9,-2.8],[2.95,0.1],[3.0,4.8],[3.05,-1.4],[3.1,2.3],
  [3.15,-3.6],[3.2,0.7],[3.25,-0.5],[3.3,3.2],[3.35,-2.1],[3.4,1.0],[3.45,-4.5],[3.5,2.0],[3.55,-1.0],[3.6,0.3],[3.65,-2.6],[3.7,3.9],
  [3.75,-0.2],[3.8,1.6],[3.85,-3.3],[3.9,0.8],[3.95,-1.2],[4.0,2.5],[4.05,-0.7],[4.1,-2.3],[4.15,1.3],[4.2,-0.1],[4.25,3.4],[4.3,-1.8],
  [4.35,0.6],[4.4,-3.9],[4.45,1.9],[4.5,-0.9],[4.55,0.2],[4.6,2.8],[4.65,-2.0],[4.7,0.9],[4.75,-1.4],[4.8,1.5],[4.85,-0.4],[4.9,-2.7],
  [4.95,2.1],[5.0,-0.6],[5.05,0.8],[5.1,-1.7],[5.15,3.0],[5.2,-3.2],[5.25,0.4],[5.3,-0.9],[5.35,1.7],[5.4,-1.3],[5.45,0.2],[5.5,2.4],
  [5.55,-2.1],[5.6,0.6],[5.65,-0.7],[5.7,1.2],[5.75,-1.5],[5.8,0.0],[5.85,1.9],[5.9,-1.0],
  [6.3,-0.9],[6.4,1.0],[6.55,-2.2],[6.65,0.4],[6.8,-0.3],[6.9,1.9],[7.0,-1.3],[7.1,0.6],[7.2,-0.6],[7.3,1.3],[7.4,-1.8],[7.5,0.1],
  [7.6,0.9],[7.7,-0.8],[7.8,0.3],[7.9,-1.5],[8.0,1.6],[8.1,-0.2],[8.2,0.5],[8.3,-1.0],[8.4,0.8],[8.5,-0.5],[8.6,1.4],[8.7,-0.3],
  [9.3,0.2],[9.6,-0.7],[9.85,0.6],[10.2,-1.2],[10.3,0.7],[10.4,-0.4],[10.5,1.3],[10.6,-0.9],[10.7,0.2],[10.8,-1.5],[10.9,0.9],
  [11.0,-0.2],[11.1,1.6],[11.2,-0.8],[11.3,0.4],[11.4,-1.1],[11.5,1.1],[11.6,-0.3],[11.7,0.6],[11.8,-1.3],[12.1,0.3],[13.3,-0.6],
  [13.8,0.1],[14.3,-0.2],[14.6,0.5],
  [15.1,0.5],[15.3,-0.4],[15.5,1.6],[15.65,0.2],[15.8,-0.7],[16.0,0.4],[16.2,-0.2],[16.35,0.7],[16.5,-0.5],[16.65,0.1],[16.8,-0.9],
  [16.95,0.3],[17.1,-0.1],[17.25,0.6],[17.4,-0.4],[17.55,0.2],[17.7,-0.6],[17.85,0.4],[18.0,-0.2],[18.2,0.3],[18.4,-0.5],[18.6,0.1],
  [19.0,0.3],[22.9,-0.2],[23.1,0.4],[23.25,-0.5],[23.4,0.1],[23.55,-0.1],[23.7,0.5],[23.8,-1.6],[23.85,-0.3],[24.05,0.2],[24.7,0.3],
  [24.85,-0.4],[25.0,0.1],[25.15,-0.6],[25.3,0.4],[25.45,-0.2],[25.6,0.2],[25.75,-0.5],[25.95,0.0],[30.1,0.1],[34.7,-0.3],[34.9,0.6],
  [35.1,-0.2],[34.2,-1.8],[37.8,0.1]
];

// ---- panel 5: blaze shift ----
const e140hBlaze = [
  [1.8,0],[2.0,0],[2.2,0],[2.4,0],[2.6,0],[2.8,0],[3.0,0],[3.1,0],[3.2,0],[3.3,0],[3.5,0],[3.7,0],[3.9,0],[4.1,0],[4.2,0],[4.3,0],
  [4.4,0],[4.6,0],[4.8,0],[5.0,0],[5.2,0],[5.4,0],[5.6,0],[5.7,0],[5.8,0],[5.9,0],[6.0,0],[6.1,0],[6.3,0],[6.6,0],[7.0,0],[7.5,0],
  [8.0,0],[8.4,0],[8.5,0],[8.6,0],[8.7,0],[8.8,0],[8.9,0],[9.0,0],[9.1,0],[9.2,0],[9.3,0],[9.5,0],[10.0,0],[10.7,0],[11.4,0],
  [11.6,0],[12.0,0],[12.2,0],[12.4,0],[12.6,0],[12.8,0],[13.0,0],[13.2,0],[13.6,0],[14.1,0],[14.4,0],[15.3,0],[15.6,0],[15.9,0],
  [18.2,0],[19.0,0],[19.2,0],[19.4,0],[19.6,0],[19.8,0],[20.0,0],[20.2,0],[20.4,0],[20.6,0],[21.0,0],[22.1,0],[26.5,0],[26.7,0],
  [26.9,0],[27.1,0],[27.3,0],[27.5,0],[27.7,0],[27.9,0],[28.1,0],[28.3,0],[28.5,0],[28.7,0],[28.9,0],[29.1,0],[29.3,0],[29.8,0],
  [30.1,0],[34.6,0],[35.0,0],[10.74,-0.012],[12.3,-0.008]
];
const e230hBlaze = [
  [1.0,0],[1.2,0],[1.4,0],[1.6,0],[1.8,0],[2.0,0],[2.2,0],[2.4,0],[2.6,0],[2.7,0],[2.8,0],[3.0,0],[3.2,0],[3.4,0],[3.6,0],[3.8,0],
  [4.0,0],[4.2,0],[4.4,0],[4.6,0],[4.8,0],[5.0,0],[5.2,0],[5.3,0],[5.5,0],[5.7,0],[5.9,0],[6.2,0],[6.5,0],[6.8,0],[7.0,0],[7.2,0],
  [7.4,0],[7.6,0],[7.8,0],[8.0,0],[8.2,0],[8.4,0],[8.6,0],[8.8,0],[9.6,0],[9.9,0],[10.2,0],[10.4,0],[10.6,0],[10.8,0],[11.0,0],
  [11.2,0],[11.4,0],[11.6,0],[11.8,0],[12.1,0],[13.4,0],[13.9,0],[14.4,0],[15.1,0],[15.3,0],[15.5,0],[15.7,0],[16.0,0],[16.2,0],
  [16.5,0],[16.8,0],[17.0,0],[17.2,0],[17.4,0],[17.6,0],[17.8,0],[18.0,0],[18.3,0],[18.6,0],[19.1,0],[22.9,0],[23.1,0],[23.3,0],
  [23.5,0],[23.7,0],[23.9,0],[24.1,0],[24.3,0],[24.7,0],[24.9,0],[25.1,0],[25.3,0],[25.5,0],[25.7,0],[25.9,0],[26.1,0],[34.2,0],
  [34.7,0],[35.1,0],[37.7,0],[37.9,0],
  [1.35,0.288],[1.69,0.288],[2.2,0.288],[3.24,0.288],
  [1.08,0.255],[1.31,0.255],[1.65,0.255],[2.4,0.255],[2.52,0.253],
  [1.04,0.225],[1.2,0.222],[1.47,0.224],[1.77,0.222],[2.12,0.225],[2.57,0.222],[2.63,0.224],[3.47,0.222],[4.78,0.222],[7.46,0.222],
  [1.31,0.21],[1.39,0.21],[1.69,0.21],[2.18,0.21],[2.77,0.21],[3.42,0.21],[3.78,0.21],
  [1.33,0.197],[1.67,0.197],[2.3,0.197],[2.52,0.197],[3.28,0.195],[3.44,0.197],[4.75,0.193],
  [1.33,0.182],[1.69,0.182],[2.2,0.18],[2.7,0.18],[3.28,0.18],[3.69,0.18],
  [1.27,0.167],[1.37,0.163],[1.65,0.163],[1.76,0.165],[2.1,0.168],[2.37,0.165],[2.57,0.163],[2.8,0.163],[3.0,0.167],[3.3,0.165],
  [3.55,0.163],[3.85,0.163],[5.33,0.151],
  [0.99,0.127],[1.03,0.127],[1.4,0.127],[2.76,0.127],[3.77,0.127],
  [2.76,0.113],[2.5,0.105],[3.4,0.105],[3.75,0.113],[2.72,0.1],
  [1.1,0.08],[1.37,0.08],[1.77,0.08],[2.52,0.08],[2.76,0.08],[3.45,0.08],[3.78,0.08],
  [1.27,0.06],[1.6,0.06],[2.12,0.06],[2.5,0.065],[2.8,0.06],[2.9,0.045],[3.45,0.06],[3.55,0.04],[4.85,0.06],
  [1.47,0.02],[1.86,0.02],[2.5,0.03],[2.75,0.035],[2.8,0.025],[3.1,0.015],[3.45,0.025],[3.75,0.035],[3.9,0.018],[3.95,0.025],[4.48,0.015],
  [1.3,-0.015],[1.67,-0.015],[2.52,-0.02],[2.82,-0.015],[3.1,-0.02],[3.42,-0.025],[3.7,-0.025],[3.82,-0.03],[3.88,-0.02],[5.17,-0.025],
  [0.97,-0.034],[0.99,-0.034],
  [1.2,-0.048],[1.47,-0.052],[1.77,-0.05],[1.93,-0.048],[2.37,-0.048],[2.55,-0.05],[2.83,-0.052],[3.22,-0.055],[3.6,-0.05],[3.66,-0.048],[3.84,-0.05],
  [1.22,-0.072],[1.5,-0.072],[1.97,-0.072],[2.52,-0.072],[2.62,-0.07],[2.88,-0.072],[3.47,-0.072],[3.63,-0.072],[3.8,-0.075],[4.98,-0.07],
  [1.4,-0.092],[1.73,-0.095],[2.28,-0.095],[2.8,-0.095],[3.38,-0.095],[3.73,-0.095],[3.87,-0.095],[5.34,-0.116],[2.68,-0.09],
  [1.22,-0.107],[1.51,-0.107],[1.97,-0.107],[2.55,-0.107],[2.79,-0.107],[3.45,-0.107],[3.78,-0.107],
  [1.22,-0.123],[1.5,-0.123],[1.97,-0.12],[2.64,-0.123],[3.6,-0.123],
  [1.22,-0.139],[1.5,-0.139],[1.97,-0.139],[2.9,-0.139],[3.85,-0.139],[4.96,-0.14],
  [2.63,-0.145],[3.59,-0.145],[4.93,-0.15],
  [1.18,-0.155],[1.46,-0.155],[1.87,-0.155],[2.75,-0.155],
  [1.04,-0.172],[1.2,-0.172],[1.5,-0.172],[2.13,-0.172],
  [2.63,-0.186],[2.77,-0.186],[3.55,-0.185],[3.78,-0.185],
  [2.6,-0.198],[2.83,-0.2],[3.54,-0.198],[3.66,-0.196],[4.93,-0.198],
  [2.72,-0.214],[3.69,-0.214],[3.87,-0.212],[3.98,-0.214],[2.74,-0.21],[3.48,-0.208],
  [1.66,-0.226],[2.2,-0.226],
  [0.98,-0.243],[1.08,-0.243],[1.31,-0.243],[1.87,-0.243],
  [2.19,-0.253],[2.6,-0.255],[2.95,-0.253],[3.57,-0.255],[4.04,-0.253],
  [2.9,-0.29],[3.2,-0.287],[3.96,-0.29],
  [2.18,-0.343],[2.95,-0.343],[3.98,-0.343],
  [1.85,-0.672],[2.51,-0.672],[2.74,-0.666],[3.47,-0.672],[3.82,-0.666]
];

// ---- layout ----
const left = 115, right = 2226;
const panelTop0 = 53.6, panelStep = 740.6, panelH = 655.5;
const blue = '#1f77b4', orange = '#ff7f0e';
const fs = 20.8;
const tickLen = 7.3;

const svg = d3.select('#chart');
const x = d3.scaleLinear().domain([-0.89, 39.86]).range([left, right]);

svg.append('text')
  .attr('x', (left + right) / 2).attr('y', 41)
  .attr('text-anchor', 'middle')
  .style('font-size', '25px')
  .text('STIS MAMA Spectroscopic Sensitivity Monitoring Data \u2013 Reduced SNR');

function makePanel(i, yDomain, yTicks, yFmt, yLabel, yLabelX) {
  const top = panelTop0 + i * panelStep, bottom = top + panelH;
  const y = d3.scaleLinear().domain(yDomain).range([bottom, top]);
  const g = svg.append('g');

  // grid
  const grid = g.append('g').attr('stroke', '#ebebeb').attr('stroke-width', 1.6);
  grid.selectAll('.gx').data(xTicks).join('line')
    .attr('x1', d => x(d)).attr('x2', d => x(d)).attr('y1', top).attr('y2', bottom);
  grid.selectAll('.gy').data(yTicks).join('line')
    .attr('x1', left).attr('x2', right).attr('y1', d => y(d)).attr('y2', d => y(d));

  const clipId = 'clip' + i;
  svg.append('clipPath').attr('id', clipId)
    .append('rect').attr('x', left).attr('y', top).attr('width', right - left).attr('height', panelH);
  const plot = g.append('g').attr('clip-path', `url(#${clipId})`);

  // axes
  const xa = g.append('g').attr('transform', `translate(0,${bottom})`)
    .call(d3.axisBottom(x).tickValues(xTicks).tickFormat(d3.format('d')).tickSize(tickLen).tickPadding(tickLen).tickSizeOuter(0));
  const ya = g.append('g').attr('transform', `translate(${left},0)`)
    .call(d3.axisLeft(y).tickValues(yTicks).tickFormat(yFmt).tickSize(tickLen).tickPadding(tickLen).tickSizeOuter(0));
  for (const a of [xa, ya]) {
    a.select('.domain').remove();
    a.attr('font-size', fs).attr('font-family', "'DejaVu Sans', sans-serif");
    a.selectAll('.tick line').attr('stroke', '#222').attr('stroke-width', 1.7);
    a.selectAll('.tick text').attr('fill', '#000');
  }

  g.append('text')
    .attr('x', (left + right) / 2).attr('y', bottom + 58)
    .attr('text-anchor', 'middle').style('font-size', fs + 'px')
    .text('SNR of Continuum');
  g.append('text')
    .attr('transform', `translate(${yLabelX},${(top + bottom) / 2}) rotate(-90)`)
    .attr('text-anchor', 'middle').attr('dy', '0.35em').style('font-size', fs + 'px')
    .text(yLabel);

  return { g, plot, y, top, bottom };
}

function frame(p) {
  p.g.append('rect')
    .attr('x', left).attr('y', p.top).attr('width', right - left).attr('height', panelH)
    .attr('fill', 'none').attr('stroke', '#222').attr('stroke-width', 1.7);
}

function scatter(p, pts, color) {
  p.plot.append('g').selectAll('circle').data(pts).join('circle')
    .attr('cx', d => x(d[0])).attr('cy', d => p.y(d[1])).attr('r', 3.3)
    .attr('fill', color).attr('fill-opacity', 0.5)
    .attr('stroke', color).attr('stroke-opacity', 0.5).attr('stroke-width', 2);
}

// pick one measured column out of the core observation rows
const col = (rows, k) => rows.map(r => [r[0], r[k]]);

function binnedMean(p, means, sigmas) {
  const data = snrBins.map((s, i) => ({ s, m: means[i], e: sigmas[i] }));
  const g = p.plot.append('g');
  g.selectAll('line').data(data).join('line')
    .attr('x1', d => x(d.s)).attr('x2', d => x(d.s))
    .attr('y1', d => p.y(d.m - d.e)).attr('y2', d => p.y(d.m + d.e))
    .attr('stroke', '#000').attr('stroke-opacity', 0.65).attr('stroke-width', 3);
  g.append('path').datum(data)
    .attr('d', d3.line().x(d => x(d.s)).y(d => p.y(d.m)))
    .attr('fill', 'none').attr('stroke', '#000').attr('stroke-opacity', 0.6).attr('stroke-width', 3.2);
  g.selectAll('circle').data(data).join('circle')
    .attr('cx', d => x(d.s)).attr('cy', d => p.y(d.m)).attr('r', 6.5)
    .attr('fill', '#000').attr('fill-opacity', 0.7)
    .attr('stroke', '#000').attr('stroke-opacity', 0.7).attr('stroke-width', 1.5);
}

function gratingLegend(p) {
  const lg = p.g.append('g').attr('transform', `translate(2073,${p.top + 9.4})`);
  lg.append('rect').attr('width', 143).attr('height', 99).attr('rx', 4)
    .attr('fill', '#fff').attr('fill-opacity', 0.8).attr('stroke', '#d6d6d6').attr('stroke-width', 1.6);
  lg.append('text').attr('x', 71.5).attr('y', 26).attr('text-anchor', 'middle').style('font-size', fs + 'px').text('Grating');
  [['E140H', blue], ['E230H', orange]].forEach(([name, c], k) => {
    const cy = 49 + k * 30;
    lg.append('circle').attr('cx', 29).attr('cy', cy).attr('r', 9.5)
      .attr('fill', c).attr('fill-opacity', 0.4).attr('stroke', c).attr('stroke-opacity', 0.5).attr('stroke-width', 1.5);
    lg.append('text').attr('x', 66).attr('y', cy).attr('dy', '0.36em').style('font-size', fs + 'px').text(name);
  });
}

const shiftFmt = d3.format('d');

// panel 1
const p1 = makePanel(0, [-25, 25], shiftTicks, shiftFmt, '\u0394 Mean Pixshift (relative to full SNR)', 36);
scatter(p1, e140hMean, blue);
scatter(p1, col(e140hCoreObs, 1), blue);
scatter(p1, e230hMean, orange);
scatter(p1, col(e230hCoreObs, 1), orange);
binnedMean(p1, binMeanShift, sigmaMean);
frame(p1);
gratingLegend(p1);

// panel 2
const p2 = makePanel(1, [-25, 25], shiftTicks, shiftFmt, '\u0394shift[first order] = \u0394acof', 36);
scatter(p2, e140hFirst, blue);
scatter(p2, col(e140hCoreObs, 2), blue);
scatter(p2, e230hFirst, orange);
scatter(p2, col(e230hCoreObs, 2), orange);
binnedMean(p2, binFirstShift, sigmaFirst);
frame(p2);

// panel 3
const p3 = makePanel(2, [-25, 25], shiftTicks, shiftFmt, '\u0394shift[last order] = \u0394(acof + bcof * sporders)', 36);
scatter(p3, e140hLast, blue);
scatter(p3, col(e140hCoreObs, 3), blue);
scatter(p3, e230hLast, orange);
scatter(p3, col(e230hCoreObs, 3), orange);
binnedMean(p3, binLastShift, sigmaLast);
frame(p3);

// panel 4: sigma per bin
const p4 = makePanel(3, [-0.72, 15.07], sigmaTicks, d3.format('d'), '\u03c3 of \u0394pixshift (pixels)', 54);
const sigmaSeries = [
  { name: 'First order', color: blue, vals: sigmaFirst },
  { name: 'Mean', color: '#000', vals: sigmaMean },
  { name: 'Last order', color: orange, vals: sigmaLast }
];
sigmaSeries.forEach(s => {
  const data = snrBins.map((b, i) => [b, s.vals[i]]);
  const g = p4.plot.append('g');
  g.append('path').datum(data)
    .attr('d', d3.line().x(d => x(d[0])).y(d => p4.y(d[1])))
    .attr('fill', 'none').attr('stroke', s.color).attr('stroke-opacity', 0.6).attr('stroke-width', 3);
  g.selectAll('circle').data(data).join('circle')
    .attr('cx', d => x(d[0])).attr('cy', d => p4.y(d[1])).attr('r', 6)
    .attr('fill', s.color).attr('fill-opacity', 0.6)
    .attr('stroke', s.color).attr('stroke-opacity', 0.6).attr('stroke-width', 1.5);
});
frame(p4);
{
  const lg = p4.g.append('g').attr('transform', `translate(2035,${p4.top + 10})`);
  lg.append('rect').attr('width', 181).attr('height', 127).attr('rx', 4)
    .attr('fill', '#fff').attr('fill-opacity', 0.8).attr('stroke', '#d6d6d6').attr('stroke-width', 1.6);
  lg.append('text').attr('x', 91).attr('y', 27).attr('text-anchor', 'middle').style('font-size', fs + 'px').text('Pixshift');
  sigmaSeries.forEach((s, k) => {
    const cy = 48 + k * 30.5;
    lg.append('line').attr('x1', 7).attr('x2', 52).attr('y1', cy).attr('y2', cy)
      .attr('stroke', s.color).attr('stroke-opacity', 0.6).attr('stroke-width', 3);
    lg.append('circle').attr('cx', 29.5).attr('cy', cy).attr('r', 6.5)
      .attr('fill', s.color).attr('fill-opacity', 0.6).attr('stroke', s.color).attr('stroke-opacity', 0.6).attr('stroke-width', 1.5);
    lg.append('text').attr('x', 68).attr('y', cy).attr('dy', '0.36em').style('font-size', fs + 'px').text(s.name);
  });
}

// panel 5
const p5 = makePanel(4, [-0.719, 0.338], blazeTicks, d3.format('.1f'), '\u0394 Blaze Shift (pixels)', 29);
scatter(p5, e140hBlaze, blue);
scatter(p5, e140hCoreObs.map(r => [r[0], coreBlazeShift]), blue);
scatter(p5, e230hBlaze, orange);
scatter(p5, e230hCoreObs.map(r => [r[0], coreBlazeShift]), orange);
frame(p5);
gratingLegend(p5);
</script>
</body>
</html>
